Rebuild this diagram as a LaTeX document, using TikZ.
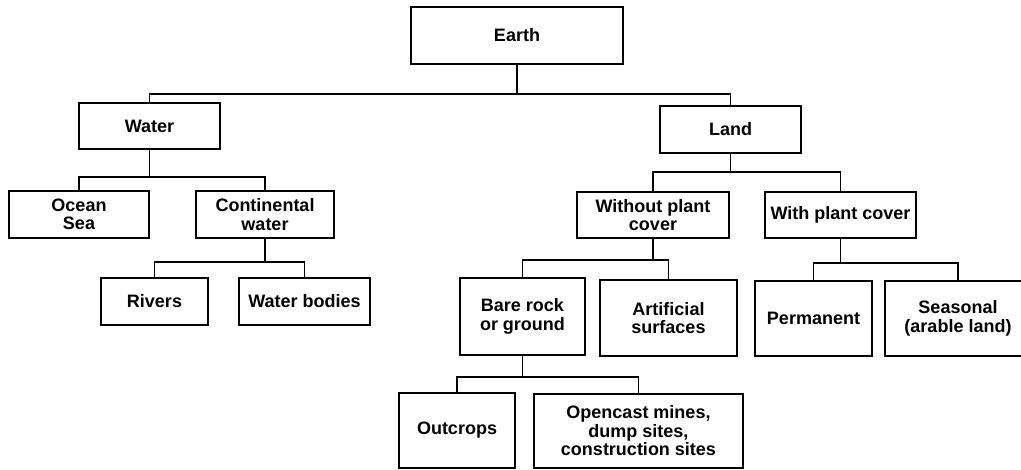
\documentclass[tikz,border=0pt]{standalone}
\usepackage{fontspec}
\setmainfont{Liberation Sans}
\usepackage{tikz}

\begin{document}
\begin{tikzpicture}[x=1pt,y=-1pt,
	every node/.style={draw,line width=1.7pt,align=center,inner sep=0pt,
		font=\bfseries\fontsize{18}{18.5}\selectfont},
	link/.style={line width=1.5pt}]

    \useasboundingbox (0,0) rectangle (1021,470);

    \node[minimum width=212pt,minimum height=57pt] (earth) at (517,35.5) {Earth};

    \node[minimum width=141pt,minimum height=46pt] (water) at (149.5,126) {Water};
    \node[minimum width=141pt,minimum height=47pt] (land) at (730.5,129.5) {Land};

    \node[minimum width=140pt,minimum height=47pt] (ocean) at (79,214.5) {Ocean\\Sea};
    \node[minimum width=138pt,minimum height=47pt] (cont) at (265,214.5) {Continental\\water};
    \node[minimum width=152pt,minimum height=46pt] (noplant) at (653,215) {Without plant\\cover};
    \node[minimum width=151pt,minimum height=46pt] (plant) at (840.5,215) {With plant cover};

    \node[minimum width=107pt,minimum height=47pt] (rivers) at (154.5,301.5) {Rivers};
    \node[minimum width=131pt,minimum height=47pt] (bodies) at (304.5,301.5) {Water bodies};
    \node[minimum width=125pt,minimum height=77pt] (bare) at (522.5,316.5) {Bare rock\\or ground};
    \node[minimum width=137pt,minimum height=76pt] (artif) at (668.5,318) {Artificial\\surfaces};
    \node[minimum width=117pt,minimum height=75pt] (perm) at (813.5,318.5) {Permanent};
    \node[minimum width=146pt,minimum height=75pt] (season) at (958,318.5) {Seasonal\\(arable land)};

    \node[minimum width=116pt,minimum height=75pt] (outcrops) at (457,430.5) {Outcrops};
    \node[minimum width=209pt,minimum height=74pt] (mines) at (638.5,431) {Opencast mines,\\dump sites,\\construction sites};

    % parent / child / drop to the bar
    \foreach \p/\c/\d in {earth/water/29, earth/land/29,
                          water/ocean/27, water/cont/27,
                          cont/rivers/23, cont/bodies/23,
                          land/noplant/18, land/plant/18,
                          noplant/bare/21, noplant/artif/21,
                          plant/perm/24, plant/season/24,
                          bare/outcrops/21, bare/mines/21}
        \draw[link] (\p.south) -- ++(0,\d) -| (\c.north);

\end{tikzpicture}
\end{document}
